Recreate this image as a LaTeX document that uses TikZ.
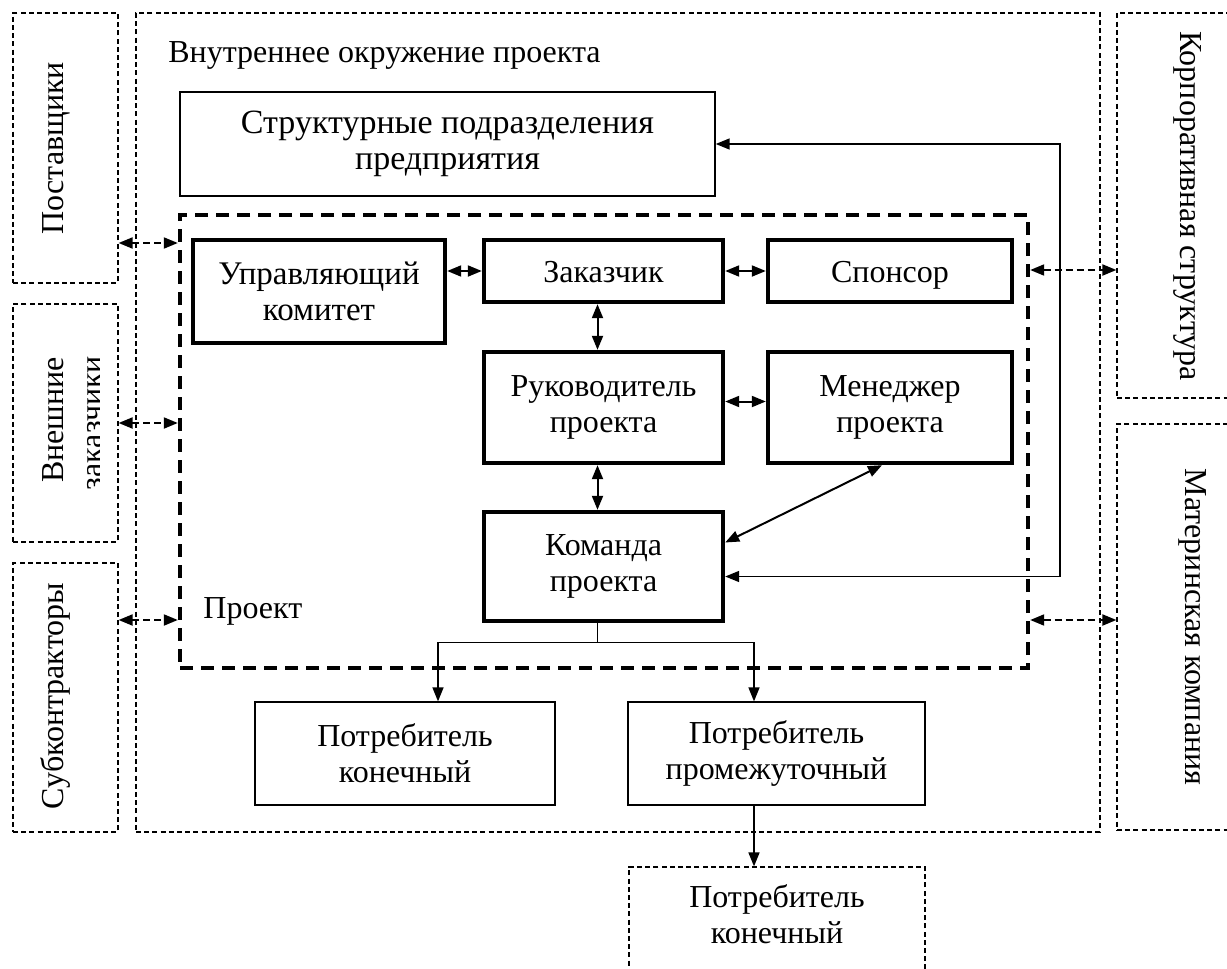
\documentclass[tikz,border=0pt]{standalone}
\usepackage{fontspec}
\setmainfont{Liberation Serif}
\usetikzlibrary{arrows.meta}
\begin{document}
\begin{tikzpicture}[x=0.5pt,y=-0.5pt,
  every node/.style={font=\fontsize{16pt}{18pt}\selectfont},
  hd/.tip={Triangle[length=7pt,width=5.5pt]},
  sz/.style 2 args={minimum width=#1*0.5pt, minimum height=#2*0.5pt},
  thinbox/.style={draw, line width=0.6pt, dash pattern=on 2.5pt off 1.6pt, inner sep=0pt},
  plainbox/.style={draw, line width=0.7pt, inner sep=0pt, align=center},
  heavybox/.style={draw, line width=2.2pt, inner sep=0pt, align=center},
  oneline/.style={text height=12pt, text depth=1pt},
  projbox/.style={draw, line width=2.2pt, dash pattern=on 6.5pt off 4pt, inner sep=0pt},
  both/.style={line width=1pt, hd-hd},
  link/.style={line width=1pt, dash pattern=on 3.5pt off 2pt, hd-hd},
  thinarr/.style={line width=0.8pt, hd-hd},
  feed/.style={line width=0.7pt},
  txt/.style={inner sep=0pt}
]
\useasboundingbox (0,0) rectangle (1227,969);

% outer environment and external parties
\node[thinbox, sz={964}{819}] (env) at (618,422.5) {};
\node[thinbox, sz={105}{270}] (post) at (65.5,148) {};
\node[thinbox, sz={105}{238}] (vnesh) at (65.5,423) {};
\node[thinbox, sz={105}{269}] (sub) at (65.5,697.5) {};
\node[thinbox, sz={123}{385}] (korp) at (1178.5,205.5) {};
\node[thinbox, sz={123}{406}] (mat) at (1178.5,627) {};
\node[thinbox, sz={296}{200}] (cons2) at (777,967) {};

% labels of the dashed boxes
\node[txt, anchor=base west] (envt) at (168,62) {Внутреннее окружение проекта};
\node[txt, rotate=90, anchor=base] (postt) at (63,148) {Поставщики};
\node[txt, rotate=90, anchor=base] (subt) at (63,696) {Субконтракторы};
\begin{scope}
  \clip (13,304) rectangle (99,542);
  \node[txt, rotate=90, anchor=base] (vneshA) at (63,420) {Внешние};
  \node[txt, rotate=90, anchor=base] (vneshB) at (102,423) {заказчики};
\end{scope}
\node[txt, rotate=-90, anchor=base] (korpt) at (1180,206) {Корпоративная структура};
\node[txt, rotate=-90, anchor=base] (matt) at (1185,627) {Материнская компания};
\node[txt, align=center] (cons2t) at (777,914.5) {Потребитель\\конечный};

% project and its participants
\node[plainbox, sz={535}{104}, font=\fontsize{17pt}{18pt}\selectfont] (struct) at (447.5,144) {Структурные подразделения\\предприятия};
\node[projbox, sz={848}{453}] (proj) at (604,441.5) {};
\node[txt, anchor=base west] (projt) at (203,618) {Проект};
\node[heavybox, sz={252}{103}, font=\fontsize{16.5pt}{18pt}\selectfont] (uprav) at (319,291.5) {Управляющий\\комитет};
\node[heavybox, oneline, sz={239}{62}] (zak) at (603.5,271) {Заказчик};
\node[heavybox, oneline, sz={244}{62}] (spon) at (890,271) {Спонсор};
\node[heavybox, sz={239}{111}] (ruk) at (603.5,407.5) {Руководитель\\проекта};
\node[heavybox, sz={244}{111}] (men) at (890,407.5) {Менеджер\\проекта};
\node[heavybox, sz={239}{109}] (kom) at (603.5,566.5) {Команда\\проекта};
\node[plainbox, line width=0.6pt, sz={300}{103}] (cons1) at (405,753.5) {Потребитель\\конечный};
\node[plainbox, line width=0.6pt, sz={297}{103}] (consp) at (776.5,753.5) {Потребитель\\промежуточный};

% links inside the project
\draw[both] (uprav.east |- zak.west) -- (zak.west);
\draw[both] (zak.east) -- (spon.west);
\draw[both] ([xshift=-3pt]zak.south) -- ([xshift=-3pt]ruk.north);
\draw[both] ([yshift=3pt]ruk.east) -- ([yshift=3pt]men.west);
\draw[both] ([xshift=-3pt]ruk.south) -- ([xshift=-3pt]kom.north);
\draw[both] ([xshift=-4pt]men.south) -- ([yshift=12pt]kom.east);

% structural units to the team
\coordinate (rt) at (1060,0);
\coordinate (kin) at ([yshift=-5pt]kom.east);
\draw[thinarr] (struct.east) -- (struct.east -| rt) -- (rt |- kin) -- (kin);

% team to the consumers
\coordinate (kout) at ([xshift=-3pt]kom.south);
\coordinate (split) at ([yshift=-9.5pt]kout);
\coordinate (c1) at ([xshift=16.5pt]cons1.north);
\coordinate (c2) at ([xshift=-11.25pt]consp.north);
\coordinate (c3) at ([xshift=-11.25pt]consp.south);
\draw[feed] (kout) -- (split);
\draw[feed, -hd] (split) -| (c1);
\draw[feed, -hd] (split) -| (c2);
\draw[feed, line width=0.8pt, -hd] (c3) -- (c3 |- cons2.north);

% links with the external parties
\coordinate (ya) at (0,243);
\coordinate (yb) at (0,423);
\coordinate (yc) at (0,620);
\coordinate (yd) at (0,270);
\draw[link] (post.east |- ya) -- (proj.west |- ya);
\draw[link] (vnesh.east |- yb) -- (proj.west |- yb);
\draw[link] (sub.east |- yc) -- (proj.west |- yc);
\draw[link] (proj.east |- yd) -- (korp.west |- yd);
\draw[link] (proj.east |- yc) -- (mat.west |- yc);
\end{tikzpicture}
\end{document}
